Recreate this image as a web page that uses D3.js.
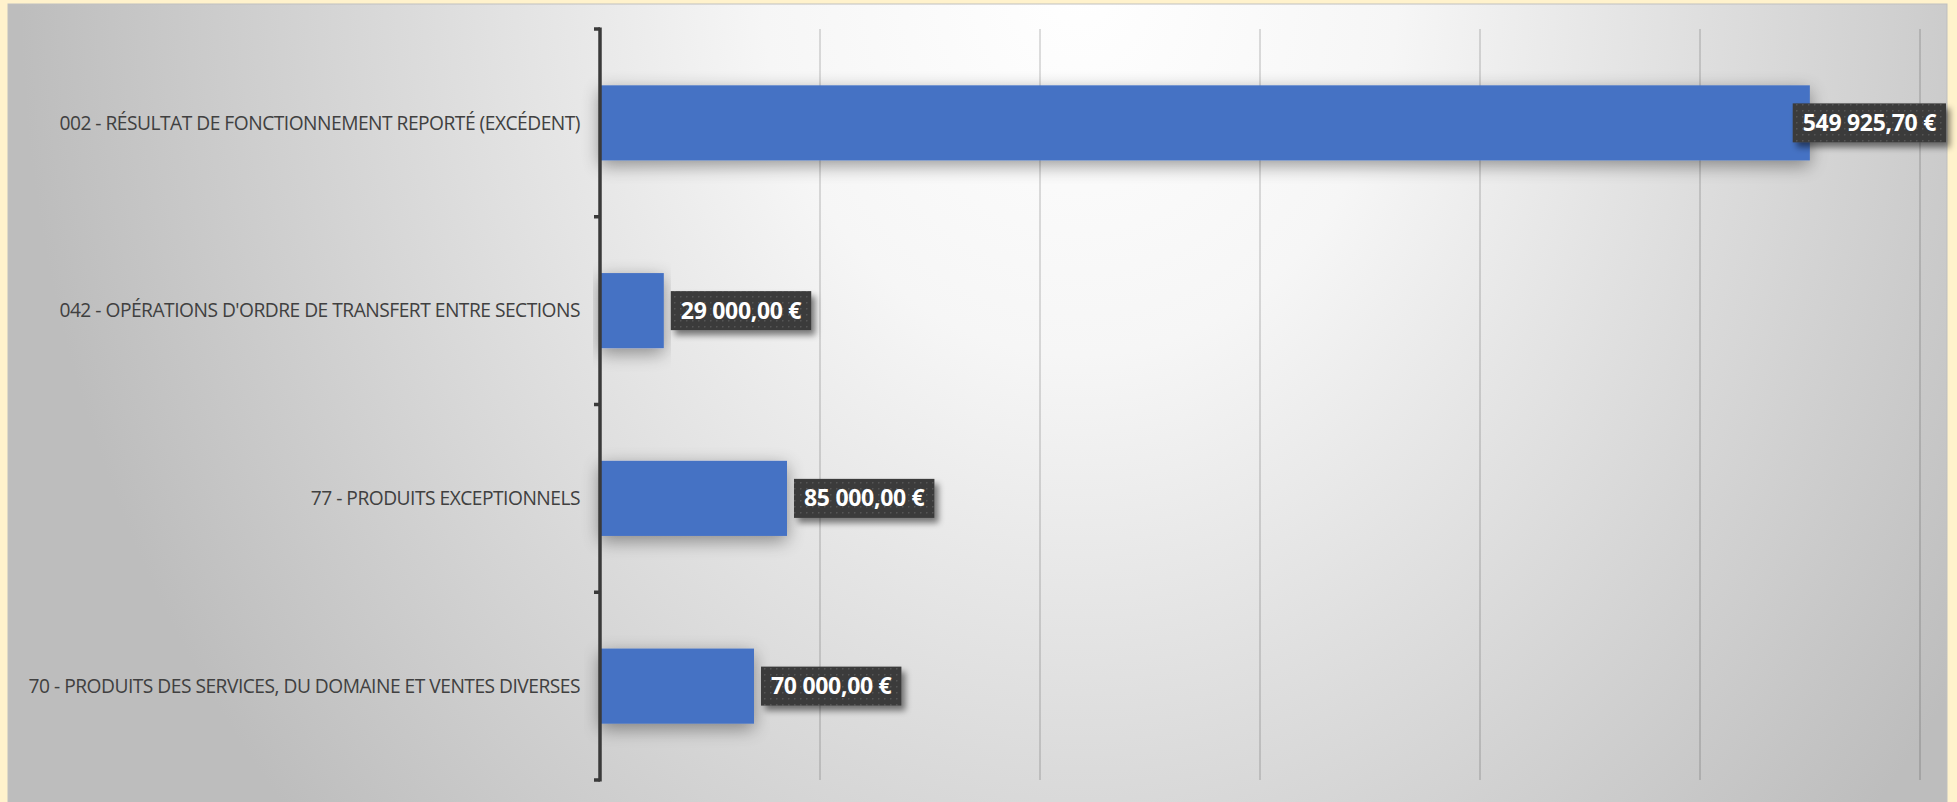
<!DOCTYPE html>
<html>
<head>
<meta charset="utf-8">
<script src="https://cdn.jsdelivr.net/npm/d3@7"></script>
<style>
  body { margin: 0; background: #fff2cc; }
  svg { display: block; }
</style>
</head>
<body>
<div id="chart"></div>
<script>
var width = 1957;
var height = 802;

// Data
var categories = [
  "002 - RÉSULTAT DE FONCTIONNEMENT REPORTÉ (EXCÉDENT)",
  "042 - OPÉRATIONS D'ORDRE DE TRANSFERT ENTRE SECTIONS",
  "77 - PRODUITS EXCEPTIONNELS",
  "70 - PRODUITS DES SERVICES, DU DOMAINE ET VENTES DIVERSES"
];
var values = [549925.70, 29000, 85000, 70000];
var xTicks = [0, 100000, 200000, 300000, 400000, 500000, 600000];

var plot = { left: 600, right: 1920, top: 29, bottom: 780 };
var panel = { x: 8, y: 4, w: 1939, h: 820 };

var fr = d3.formatLocale({
  decimal: ",",
  thousands: "\u00a0",
  grouping: [3],
  currency: ["", "\u00a0€"]
});
var fmt = fr.format("$,.2f");

var svg = d3.select("#chart")
  .append("svg")
  .attr("width", width)
  .attr("height", height);

var defs = svg.append("defs");

// panel gradient
var grad = defs.append("radialGradient")
  .attr("id", "bg")
  .attr("gradientUnits", "userSpaceOnUse")
  .attr("cx", 0).attr("cy", 0).attr("r", 1)
  .attr("gradientTransform", "translate(1080,-20) scale(1060,1250)");
grad.append("stop").attr("offset", 0).attr("stop-color", "#ffffff");
grad.append("stop").attr("offset", 0.3).attr("stop-color", "#f6f6f6");
grad.append("stop").attr("offset", 1).attr("stop-color", "#bdbdbd");

// bar glow
var barShadow = defs.append("filter").attr("id", "barShadow")
  .attr("x", "-10%").attr("y", "-60%").attr("width", "120%").attr("height", "220%");
barShadow.append("feGaussianBlur").attr("in", "SourceAlpha").attr("stdDeviation", 9).attr("result", "b");
barShadow.append("feOffset").attr("in", "b").attr("dx", 0).attr("dy", 5).attr("result", "o");
barShadow.append("feComponentTransfer").attr("in", "o").attr("result", "s")
  .append("feFuncA").attr("type", "linear").attr("slope", 0.4);
var m1 = barShadow.append("feMerge");
m1.append("feMergeNode").attr("in", "s");
m1.append("feMergeNode").attr("in", "SourceGraphic");

// label shadow
var lblShadow = defs.append("filter").attr("id", "lblShadow")
  .attr("x", "-20%").attr("y", "-40%").attr("width", "150%").attr("height", "200%");
lblShadow.append("feGaussianBlur").attr("in", "SourceAlpha").attr("stdDeviation", 3).attr("result", "b");
lblShadow.append("feOffset").attr("in", "b").attr("dx", 4).attr("dy", 5).attr("result", "o");
lblShadow.append("feComponentTransfer").attr("in", "o").attr("result", "s")
  .append("feFuncA").attr("type", "linear").attr("slope", 0.5);
var m2 = lblShadow.append("feMerge");
m2.append("feMergeNode").attr("in", "s");
m2.append("feMergeNode").attr("in", "SourceGraphic");

// dotted label fill
var pat = defs.append("pattern")
  .attr("id", "dots")
  .attr("patternUnits", "userSpaceOnUse")
  .attr("width", 6).attr("height", 6);
pat.append("rect").attr("width", 6).attr("height", 6).attr("fill", "#3a3a3a");
pat.append("rect").attr("x", 2).attr("y", 2).attr("width", 1.5).attr("height", 1.5).attr("fill", "#555");

// panel
svg.append("rect")
  .attr("x", panel.x).attr("y", panel.y)
  .attr("width", panel.w).attr("height", panel.h)
  .attr("fill", "url(#bg)")
  .attr("stroke", "#bfbfbf")
  .attr("stroke-width", 1);

// scales
var x = d3.scaleLinear()
  .domain([0, 600000])
  .range([plot.left, plot.right]);

var y = d3.scaleBand()
  .domain(categories)
  .range([plot.top, plot.bottom])
  .paddingInner(0.6)
  .paddingOuter(0.3);

// vertical gridlines
svg.append("g")
  .attr("class", "grid")
  .selectAll("line")
  .data(xTicks.slice(1))
  .enter()
  .append("line")
  .attr("x1", function (d) { return x(d); })
  .attr("x2", function (d) { return x(d); })
  .attr("y1", plot.top)
  .attr("y2", plot.bottom)
  .attr("stroke", "rgba(0,0,0,0.22)")
  .attr("stroke-width", 1.2);

// bars
svg.append("g")
  .selectAll("rect")
  .data(values)
  .enter()
  .append("rect")
  .attr("x", x(0))
  .attr("y", function (d, i) { return y(categories[i]); })
  .attr("width", function (d) { return x(d) - x(0); })
  .attr("height", y.bandwidth())
  .attr("fill", "#4472c4")
  .attr("filter", "url(#barShadow)");

// y axis: line + ticks on category boundaries
var step = y.step();
var yAxis = svg.append("g").attr("class", "yAxis");
var bounds = d3.range(categories.length + 1).map(function (i) {
  return plot.top + i * step;
});
yAxis.append("line")
  .attr("x1", plot.left).attr("x2", plot.left)
  .attr("y1", plot.top - 1.5).attr("y2", plot.bottom + 1.5)
  .attr("stroke", "#3a3a3a")
  .attr("stroke-width", 3.5);
yAxis.selectAll("line.tick")
  .data(bounds)
  .enter()
  .append("line")
  .attr("class", "tick")
  .attr("x1", plot.left - 6).attr("x2", plot.left)
  .attr("y1", function (d) { return d; })
  .attr("y2", function (d) { return d; })
  .attr("stroke", "#3a3a3a")
  .attr("stroke-width", 3.5);

// category labels
yAxis.selectAll("text")
  .data(categories)
  .enter()
  .append("text")
  .attr("x", plot.left - 20)
  .attr("y", function (d) { return y(d) + y.bandwidth() / 2; })
  .attr("dy", "0.35em")
  .attr("text-anchor", "end")
  .attr("font-family", "'Open Sans', sans-serif")
  .attr("font-size", 19.2)
  .attr("fill", "#404040")
  .style("letter-spacing", "-0.5px")
  .text(function (d) { return d; });

// data labels
var lbl = svg.append("g")
  .selectAll("g")
  .data(values)
  .enter()
  .append("g");

var boxH = 39;
var padX = 10;
var rightLimit = panel.x + panel.w - 1;

lbl.each(function (d, i) {
  var g = d3.select(this);
  var cy = y(categories[i]) + y.bandwidth() / 2;
  var box = g.append("rect");
  var t = g.append("text")
    .attr("font-family", "'Open Sans', sans-serif")
    .attr("font-weight", "bold")
    .attr("font-size", 23)
    .attr("fill", "#ffffff")
    .attr("dy", "0.35em")
    .attr("text-anchor", "middle")
    .style("letter-spacing", "-0.3px")
    .text(fmt(d));
  var tw = t.node().getComputedTextLength();
  var bw = tw + padX * 2;
  var bx = x(d) + 7;
  if (bx + bw > rightLimit) bx = rightLimit - bw;
  box.attr("x", bx)
    .attr("y", cy - boxH / 2)
    .attr("width", bw)
    .attr("height", boxH)
    .attr("fill", "url(#dots)")
    .attr("filter", "url(#lblShadow)");
  t.attr("x", bx + bw / 2).attr("y", cy);
});
</script>
</body>
</html>
